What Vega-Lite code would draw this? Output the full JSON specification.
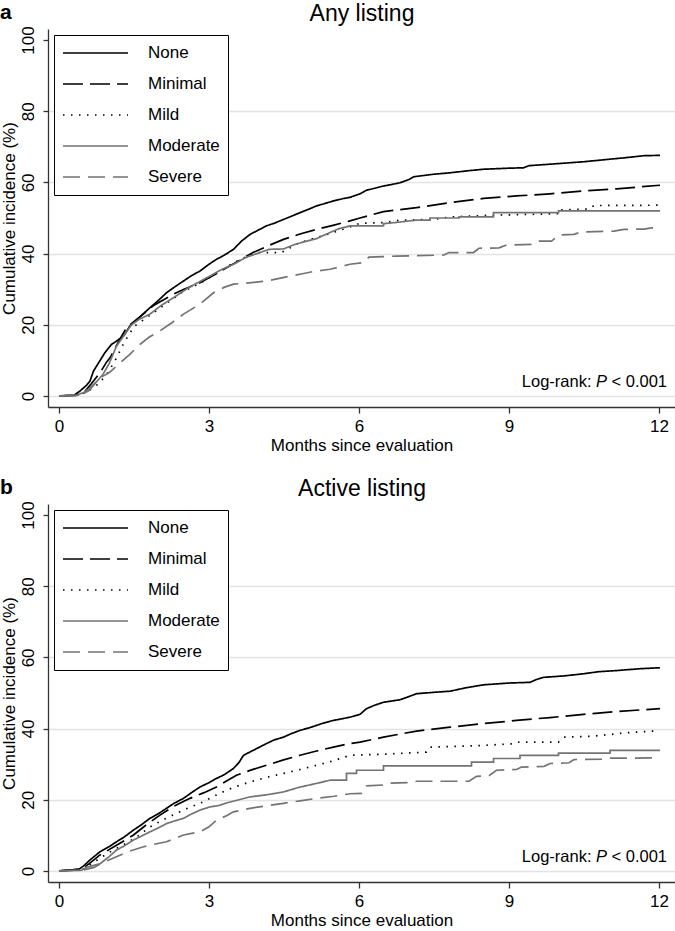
{
  "$schema": "https://vega.github.io/schema/vega-lite/v6.json",
  "padding": {"left": 0, "top": 2, "right": 0, "bottom": 0},
  "background": "white",
  "spacing": 24,
  "config": {
    "font": "Liberation Sans",
    "view": {"stroke": null},
    "axis": {
      "domainColor": "#333333", "domainWidth": 1.3,
      "tickColor": "#333333", "tickWidth": 1.3,
      "labelFontSize": 17, "titleFontSize": 17, "titleFontWeight": "normal",
      "labelColor": "#000000", "titleColor": "#000000",
      "gridColor": "#e3e3e3", "gridWidth": 1.3
    },
    "legend": {
      "orient": "top-left", "offset": 6, "title": null,
      "symbolType": "stroke", "symbolSize": 4225, "symbolStrokeWidth": 1.7,
      "clipHeight": 20,
      "labelFontSize": 17, "labelColor": "#000000", "labelOffset": 19, "labelLimit": 0,
      "rowPadding": 11, "padding": 8,
      "strokeColor": "#000000", "fillColor": "#ffffff"
    },
    "title": {"font": "Liberation Sans", "color": "#000000"}
  },
  "resolve": {"legend": {"color": "independent", "strokeDash": "independent"}},
  "datasets": {
    "note": [{"label": "Log-rank"}],
    "any": [
      {"group":"None","month":0,"pct":0},{"group":"None","month":0.3,"pct":0.2},{"group":"None","month":0.42,"pct":1.4},{"group":"None","month":0.55,"pct":3},{"group":"None","month":0.62,"pct":4.2},{"group":"None","month":0.69,"pct":7},{"group":"None","month":0.8,"pct":9.5},{"group":"None","month":0.92,"pct":12.2},{"group":"None","month":1.05,"pct":14.5},{"group":"None","month":1.15,"pct":15.4},{"group":"None","month":1.3,"pct":17},{"group":"None","month":1.42,"pct":19.7},{"group":"None","month":1.6,"pct":22},{"group":"None","month":1.82,"pct":24.8},{"group":"None","month":2.0,"pct":27},{"group":"None","month":2.15,"pct":29},{"group":"None","month":2.3,"pct":30.5},{"group":"None","month":2.49,"pct":32.3},{"group":"None","month":2.65,"pct":33.8},{"group":"None","month":2.82,"pct":35.1},{"group":"None","month":3.0,"pct":37},{"group":"None","month":3.15,"pct":38.4},{"group":"None","month":3.3,"pct":39.5},{"group":"None","month":3.49,"pct":41.2},{"group":"None","month":3.65,"pct":43.5},{"group":"None","month":3.82,"pct":45.4},{"group":"None","month":4.0,"pct":46.7},{"group":"None","month":4.15,"pct":47.8},{"group":"None","month":4.3,"pct":48.5},{"group":"None","month":4.49,"pct":49.6},{"group":"None","month":4.65,"pct":50.5},{"group":"None","month":4.82,"pct":51.5},{"group":"None","month":5.0,"pct":52.5},{"group":"None","month":5.15,"pct":53.4},{"group":"None","month":5.3,"pct":54},{"group":"None","month":5.49,"pct":54.8},{"group":"None","month":5.7,"pct":55.5},{"group":"None","month":5.82,"pct":55.8},{"group":"None","month":6.02,"pct":56.8},{"group":"None","month":6.15,"pct":57.8},{"group":"None","month":6.3,"pct":58.3},{"group":"None","month":6.49,"pct":59},{"group":"None","month":6.65,"pct":59.4},{"group":"None","month":6.82,"pct":59.9},{"group":"None","month":7.0,"pct":60.8},{"group":"None","month":7.1,"pct":61.6},{"group":"None","month":7.5,"pct":62.3},{"group":"None","month":7.82,"pct":62.7},{"group":"None","month":8.2,"pct":63.3},{"group":"None","month":8.49,"pct":63.7},{"group":"None","month":9.0,"pct":64},{"group":"None","month":9.29,"pct":64.1},{"group":"None","month":9.4,"pct":64.7},{"group":"None","month":10.0,"pct":65.3},{"group":"None","month":10.49,"pct":65.8},{"group":"None","month":11.0,"pct":66.5},{"group":"None","month":11.3,"pct":66.9},{"group":"None","month":11.7,"pct":67.5},{"group":"None","month":12.02,"pct":67.6},

      {"group":"Minimal","month":0,"pct":0},{"group":"Minimal","month":0.35,"pct":0.2},{"group":"Minimal","month":0.5,"pct":1},{"group":"Minimal","month":0.65,"pct":3.5},{"group":"Minimal","month":0.82,"pct":6.5},{"group":"Minimal","month":0.95,"pct":9.5},{"group":"Minimal","month":1.02,"pct":10.7},{"group":"Minimal","month":1.2,"pct":15.5},{"group":"Minimal","month":1.35,"pct":19.2},{"group":"Minimal","month":1.6,"pct":22},{"group":"Minimal","month":1.9,"pct":25.5},{"group":"Minimal","month":2.29,"pct":28.6},{"group":"Minimal","month":2.5,"pct":30},{"group":"Minimal","month":2.82,"pct":31.8},{"group":"Minimal","month":3.1,"pct":34},{"group":"Minimal","month":3.35,"pct":36},{"group":"Minimal","month":3.6,"pct":38},{"group":"Minimal","month":3.88,"pct":40.3},{"group":"Minimal","month":4.2,"pct":42.3},{"group":"Minimal","month":4.49,"pct":44},{"group":"Minimal","month":4.82,"pct":45.5},{"group":"Minimal","month":5.15,"pct":46.8},{"group":"Minimal","month":5.5,"pct":48},{"group":"Minimal","month":5.82,"pct":49.2},{"group":"Minimal","month":6.02,"pct":50},{"group":"Minimal","month":6.49,"pct":51.8},{"group":"Minimal","month":7.15,"pct":52.9},{"group":"Minimal","month":7.82,"pct":54.3},{"group":"Minimal","month":8.49,"pct":55.5},{"group":"Minimal","month":9.15,"pct":56.2},{"group":"Minimal","month":9.82,"pct":56.8},{"group":"Minimal","month":10.49,"pct":57.6},{"group":"Minimal","month":11.15,"pct":58.2},{"group":"Minimal","month":12.02,"pct":59.2},

      {"group":"Mild","month":0,"pct":0},{"group":"Mild","month":0.4,"pct":0.2},{"group":"Mild","month":0.6,"pct":1.5},{"group":"Mild","month":0.8,"pct":3.5},{"group":"Mild","month":1.0,"pct":7},{"group":"Mild","month":1.15,"pct":10.7},{"group":"Mild","month":1.3,"pct":15},{"group":"Mild","month":1.5,"pct":19.5},{"group":"Mild","month":1.8,"pct":22.5},{"group":"Mild","month":2.1,"pct":25.5},{"group":"Mild","month":2.5,"pct":29.5},{"group":"Mild","month":2.8,"pct":31.5},{"group":"Mild","month":3.1,"pct":34},{"group":"Mild","month":3.5,"pct":37.5},{"group":"Mild","month":3.8,"pct":39.5},{"group":"Mild","month":4.0,"pct":40.3},{"group":"Mild","month":4.45,"pct":40.3},{"group":"Mild","month":4.8,"pct":43},{"group":"Mild","month":5.15,"pct":44.5},{"group":"Mild","month":5.5,"pct":46},{"group":"Mild","month":5.82,"pct":47.5},{"group":"Mild","month":6.02,"pct":48.5},{"group":"Mild","month":6.49,"pct":48.7},{"group":"Mild","month":6.82,"pct":49.4},{"group":"Mild","month":7.5,"pct":49.6},{"group":"Mild","month":7.82,"pct":50.3},{"group":"Mild","month":8.69,"pct":50.8},{"group":"Mild","month":9.99,"pct":51.2},{"group":"Mild","month":10.0,"pct":52.3},{"group":"Mild","month":10.6,"pct":52.5},{"group":"Mild","month":10.7,"pct":53.5},{"group":"Mild","month":12.0,"pct":53.6},

      {"group":"Moderate","month":0,"pct":0},{"group":"Moderate","month":0.35,"pct":0.2},{"group":"Moderate","month":0.5,"pct":1},{"group":"Moderate","month":0.62,"pct":2.3},{"group":"Moderate","month":0.75,"pct":4},{"group":"Moderate","month":0.88,"pct":6.1},{"group":"Moderate","month":1.0,"pct":9},{"group":"Moderate","month":1.15,"pct":14},{"group":"Moderate","month":1.3,"pct":17},{"group":"Moderate","month":1.45,"pct":20},{"group":"Moderate","month":1.6,"pct":21.5},{"group":"Moderate","month":1.82,"pct":23},{"group":"Moderate","month":2.05,"pct":25.5},{"group":"Moderate","month":2.29,"pct":27.6},{"group":"Moderate","month":2.6,"pct":30.5},{"group":"Moderate","month":3.02,"pct":33.7},{"group":"Moderate","month":3.25,"pct":35.5},{"group":"Moderate","month":3.49,"pct":37},{"group":"Moderate","month":3.75,"pct":39},{"group":"Moderate","month":4.02,"pct":40.3},{"group":"Moderate","month":4.2,"pct":41.2},{"group":"Moderate","month":4.49,"pct":41.3},{"group":"Moderate","month":4.7,"pct":42.5},{"group":"Moderate","month":4.95,"pct":43.5},{"group":"Moderate","month":5.15,"pct":44.2},{"group":"Moderate","month":5.4,"pct":45.8},{"group":"Moderate","month":5.6,"pct":47},{"group":"Moderate","month":5.82,"pct":47.8},{"group":"Moderate","month":6.49,"pct":47.8},{"group":"Moderate","month":6.49,"pct":48.4},{"group":"Moderate","month":6.7,"pct":48.7},{"group":"Moderate","month":7.15,"pct":49.4},{"group":"Moderate","month":7.42,"pct":49.4},{"group":"Moderate","month":7.42,"pct":50},{"group":"Moderate","month":8.0,"pct":50},{"group":"Moderate","month":8.0,"pct":50.3},{"group":"Moderate","month":8.69,"pct":50.3},{"group":"Moderate","month":8.69,"pct":51.5},{"group":"Moderate","month":9.99,"pct":51.5},{"group":"Moderate","month":9.99,"pct":52},{"group":"Moderate","month":12.02,"pct":52},

      {"group":"Severe","month":0,"pct":0},{"group":"Severe","month":0.4,"pct":0.1},{"group":"Severe","month":0.6,"pct":1.5},{"group":"Severe","month":0.82,"pct":5.1},{"group":"Severe","month":1.0,"pct":6.5},{"group":"Severe","month":1.15,"pct":8.4},{"group":"Severe","month":1.4,"pct":11.5},{"group":"Severe","month":1.62,"pct":14.5},{"group":"Severe","month":1.8,"pct":16.5},{"group":"Severe","month":2.02,"pct":18.3},{"group":"Severe","month":2.25,"pct":20.5},{"group":"Severe","month":2.49,"pct":23},{"group":"Severe","month":2.82,"pct":25.8},{"group":"Severe","month":3.09,"pct":29},{"group":"Severe","month":3.3,"pct":30.5},{"group":"Severe","month":3.49,"pct":31.4},{"group":"Severe","month":3.8,"pct":31.8},{"group":"Severe","month":4.15,"pct":32.3},{"group":"Severe","month":4.5,"pct":33.3},{"group":"Severe","month":4.82,"pct":34.2},{"group":"Severe","month":5.1,"pct":35},{"group":"Severe","month":5.42,"pct":35.6},{"group":"Severe","month":5.82,"pct":37},{"group":"Severe","month":6.09,"pct":37.5},{"group":"Severe","month":6.2,"pct":39},{"group":"Severe","month":6.75,"pct":39.3},{"group":"Severe","month":7.7,"pct":39.6},{"group":"Severe","month":7.8,"pct":40.3},{"group":"Severe","month":8.29,"pct":40.3},{"group":"Severe","month":8.4,"pct":41.5},{"group":"Severe","month":8.8,"pct":41.6},{"group":"Severe","month":8.95,"pct":42.4},{"group":"Severe","month":9.45,"pct":42.6},{"group":"Severe","month":9.6,"pct":43.5},{"group":"Severe","month":9.85,"pct":43.5},{"group":"Severe","month":10.0,"pct":45.2},{"group":"Severe","month":10.3,"pct":45.4},{"group":"Severe","month":10.45,"pct":46.1},{"group":"Severe","month":11.1,"pct":46.3},{"group":"Severe","month":11.3,"pct":46.8},{"group":"Severe","month":11.7,"pct":46.9},{"group":"Severe","month":11.85,"pct":47.2},{"group":"Severe","month":12.02,"pct":47.3}
    ],
    "active": [
      {"group":"None","month":0,"pct":0},{"group":"None","month":0.4,"pct":0.5},{"group":"None","month":0.5,"pct":1.5},{"group":"None","month":0.62,"pct":3.1},{"group":"None","month":0.82,"pct":5.4},{"group":"None","month":1.0,"pct":6.8},{"group":"None","month":1.15,"pct":8.2},{"group":"None","month":1.3,"pct":9.5},{"group":"None","month":1.49,"pct":11.5},{"group":"None","month":1.65,"pct":13},{"group":"None","month":1.82,"pct":14.8},{"group":"None","month":2.0,"pct":16.2},{"group":"None","month":2.15,"pct":17.6},{"group":"None","month":2.3,"pct":19},{"group":"None","month":2.49,"pct":20.4},{"group":"None","month":2.65,"pct":22},{"group":"None","month":2.82,"pct":23.6},{"group":"None","month":3.0,"pct":24.8},{"group":"None","month":3.15,"pct":26},{"group":"None","month":3.3,"pct":27},{"group":"None","month":3.49,"pct":28.8},{"group":"None","month":3.6,"pct":30.5},{"group":"None","month":3.69,"pct":32.5},{"group":"None","month":3.9,"pct":34},{"group":"None","month":4.15,"pct":35.8},{"group":"None","month":4.3,"pct":36.8},{"group":"None","month":4.49,"pct":37.6},{"group":"None","month":4.65,"pct":38.6},{"group":"None","month":4.82,"pct":39.5},{"group":"None","month":5.0,"pct":40.2},{"group":"None","month":5.15,"pct":40.9},{"group":"None","month":5.3,"pct":41.6},{"group":"None","month":5.49,"pct":42.3},{"group":"None","month":5.82,"pct":43.2},{"group":"None","month":6.02,"pct":44},{"group":"None","month":6.15,"pct":45.6},{"group":"None","month":6.3,"pct":46.5},{"group":"None","month":6.49,"pct":47.4},{"group":"None","month":6.82,"pct":48.1},{"group":"None","month":7.0,"pct":49},{"group":"None","month":7.15,"pct":49.8},{"group":"None","month":7.5,"pct":50.2},{"group":"None","month":7.82,"pct":50.5},{"group":"None","month":8.15,"pct":51.5},{"group":"None","month":8.49,"pct":52.3},{"group":"None","month":9.0,"pct":52.8},{"group":"None","month":9.42,"pct":53},{"group":"None","month":9.55,"pct":53.8},{"group":"None","month":9.69,"pct":54.4},{"group":"None","month":10.1,"pct":54.8},{"group":"None","month":10.49,"pct":55.4},{"group":"None","month":10.8,"pct":56},{"group":"None","month":11.15,"pct":56.3},{"group":"None","month":11.6,"pct":56.8},{"group":"None","month":12.02,"pct":57.1},

      {"group":"Minimal","month":0,"pct":0},{"group":"Minimal","month":0.45,"pct":0.5},{"group":"Minimal","month":0.6,"pct":2},{"group":"Minimal","month":0.82,"pct":4.5},{"group":"Minimal","month":1.15,"pct":7.2},{"group":"Minimal","month":1.49,"pct":10.1},{"group":"Minimal","month":1.75,"pct":13},{"group":"Minimal","month":2.02,"pct":15.7},{"group":"Minimal","month":2.3,"pct":18.2},{"group":"Minimal","month":2.62,"pct":20.4},{"group":"Minimal","month":2.9,"pct":22},{"group":"Minimal","month":3.15,"pct":23.6},{"group":"Minimal","month":3.35,"pct":25.3},{"group":"Minimal","month":3.55,"pct":26.9},{"group":"Minimal","month":3.85,"pct":28.4},{"group":"Minimal","month":4.15,"pct":29.7},{"group":"Minimal","month":4.49,"pct":31.2},{"group":"Minimal","month":4.82,"pct":32.5},{"group":"Minimal","month":5.15,"pct":33.7},{"group":"Minimal","month":5.49,"pct":34.8},{"group":"Minimal","month":5.82,"pct":35.8},{"group":"Minimal","month":6.02,"pct":36.2},{"group":"Minimal","month":6.49,"pct":37.6},{"group":"Minimal","month":7.15,"pct":39.3},{"group":"Minimal","month":7.82,"pct":40.4},{"group":"Minimal","month":8.49,"pct":41.4},{"group":"Minimal","month":9.15,"pct":42.3},{"group":"Minimal","month":9.82,"pct":43.1},{"group":"Minimal","month":10.49,"pct":44},{"group":"Minimal","month":11.15,"pct":44.8},{"group":"Minimal","month":12.02,"pct":45.6},

      {"group":"Mild","month":0,"pct":0},{"group":"Mild","month":0.45,"pct":0.3},{"group":"Mild","month":0.6,"pct":1.5},{"group":"Mild","month":0.82,"pct":3.6},{"group":"Mild","month":1.1,"pct":6},{"group":"Mild","month":1.35,"pct":7.8},{"group":"Mild","month":1.6,"pct":10},{"group":"Mild","month":1.82,"pct":12.4},{"group":"Mild","month":2.1,"pct":14.5},{"group":"Mild","month":2.35,"pct":16.2},{"group":"Mild","month":2.6,"pct":17.8},{"group":"Mild","month":2.82,"pct":19},{"group":"Mild","month":3.1,"pct":21},{"group":"Mild","month":3.35,"pct":22.7},{"group":"Mild","month":3.6,"pct":24},{"group":"Mild","month":3.82,"pct":25},{"group":"Mild","month":4.15,"pct":26.3},{"group":"Mild","month":4.49,"pct":27.4},{"group":"Mild","month":4.82,"pct":28.5},{"group":"Mild","month":5.15,"pct":29.7},{"group":"Mild","month":5.5,"pct":31},{"group":"Mild","month":5.82,"pct":32.5},{"group":"Mild","month":6.49,"pct":32.8},{"group":"Mild","month":7.35,"pct":33.4},{"group":"Mild","month":7.42,"pct":34.8},{"group":"Mild","month":8.4,"pct":35.2},{"group":"Mild","month":9.15,"pct":35.8},{"group":"Mild","month":9.2,"pct":36.2},{"group":"Mild","month":9.99,"pct":36.2},{"group":"Mild","month":10.1,"pct":37.6},{"group":"Mild","month":10.6,"pct":37.8},{"group":"Mild","month":11.15,"pct":38.5},{"group":"Mild","month":11.3,"pct":38.8},{"group":"Mild","month":11.89,"pct":39.3},

      {"group":"Moderate","month":0,"pct":0},{"group":"Moderate","month":0.45,"pct":0.2},{"group":"Moderate","month":0.55,"pct":1},{"group":"Moderate","month":0.82,"pct":2},{"group":"Moderate","month":1.0,"pct":4},{"group":"Moderate","month":1.15,"pct":5.9},{"group":"Moderate","month":1.3,"pct":7},{"group":"Moderate","month":1.49,"pct":8.7},{"group":"Moderate","month":1.65,"pct":9.8},{"group":"Moderate","month":1.82,"pct":11},{"group":"Moderate","month":2.0,"pct":12.2},{"group":"Moderate","month":2.15,"pct":13.3},{"group":"Moderate","month":2.3,"pct":14},{"group":"Moderate","month":2.49,"pct":14.8},{"group":"Moderate","month":2.65,"pct":16},{"group":"Moderate","month":2.82,"pct":17.1},{"group":"Moderate","month":3.02,"pct":18},{"group":"Moderate","month":3.2,"pct":18.4},{"group":"Moderate","month":3.35,"pct":19.1},{"group":"Moderate","month":3.6,"pct":20},{"group":"Moderate","month":3.82,"pct":20.8},{"group":"Moderate","month":4.2,"pct":21.5},{"group":"Moderate","month":4.49,"pct":22.2},{"group":"Moderate","month":4.8,"pct":23.5},{"group":"Moderate","month":5.15,"pct":24.6},{"group":"Moderate","month":5.42,"pct":25.5},{"group":"Moderate","month":5.75,"pct":25.5},{"group":"Moderate","month":5.75,"pct":27.4},{"group":"Moderate","month":5.95,"pct":27.4},{"group":"Moderate","month":5.95,"pct":28.3},{"group":"Moderate","month":6.49,"pct":28.3},{"group":"Moderate","month":6.49,"pct":29.5},{"group":"Moderate","month":8.25,"pct":29.5},{"group":"Moderate","month":8.25,"pct":30.6},{"group":"Moderate","month":8.69,"pct":30.6},{"group":"Moderate","month":8.69,"pct":31.6},{"group":"Moderate","month":9.22,"pct":31.6},{"group":"Moderate","month":9.22,"pct":32.5},{"group":"Moderate","month":9.99,"pct":32.5},{"group":"Moderate","month":9.99,"pct":33.1},{"group":"Moderate","month":11.02,"pct":33.1},{"group":"Moderate","month":11.02,"pct":33.9},{"group":"Moderate","month":12.02,"pct":33.9},

      {"group":"Severe","month":0,"pct":0},{"group":"Severe","month":0.5,"pct":0.3},{"group":"Severe","month":0.7,"pct":1},{"group":"Severe","month":0.9,"pct":2.5},{"group":"Severe","month":1.15,"pct":4},{"group":"Severe","month":1.4,"pct":5.5},{"group":"Severe","month":1.69,"pct":6.8},{"group":"Severe","month":1.9,"pct":7.5},{"group":"Severe","month":2.15,"pct":8.2},{"group":"Severe","month":2.49,"pct":10.1},{"group":"Severe","month":2.82,"pct":11},{"group":"Severe","month":3.0,"pct":12.4},{"group":"Severe","month":3.15,"pct":14.3},{"group":"Severe","month":3.35,"pct":15.5},{"group":"Severe","month":3.49,"pct":16.6},{"group":"Severe","month":3.82,"pct":17.6},{"group":"Severe","month":4.15,"pct":18.3},{"group":"Severe","month":4.49,"pct":19},{"group":"Severe","month":4.82,"pct":19.7},{"group":"Severe","month":5.15,"pct":20.4},{"group":"Severe","month":5.5,"pct":21},{"group":"Severe","month":5.82,"pct":21.7},{"group":"Severe","month":6.05,"pct":21.8},{"group":"Severe","month":6.15,"pct":23.9},{"group":"Severe","month":6.55,"pct":24.2},{"group":"Severe","month":6.62,"pct":24.7},{"group":"Severe","month":7.0,"pct":24.8},{"group":"Severe","month":7.15,"pct":25.2},{"group":"Severe","month":8.2,"pct":25.2},{"group":"Severe","month":8.35,"pct":26.6},{"group":"Severe","month":8.6,"pct":26.8},{"group":"Severe","month":8.75,"pct":28.3},{"group":"Severe","month":9.15,"pct":28.5},{"group":"Severe","month":9.25,"pct":29.2},{"group":"Severe","month":9.7,"pct":29.4},{"group":"Severe","month":9.82,"pct":30.2},{"group":"Severe","month":10.2,"pct":30.4},{"group":"Severe","month":10.3,"pct":31.3},{"group":"Severe","month":10.9,"pct":31.4},{"group":"Severe","month":11.0,"pct":31.7},{"group":"Severe","month":11.5,"pct":31.7},{"group":"Severe","month":11.89,"pct":31.8}
    ]
  },
  "vconcat": [
    {
      "title": {"text": "a", "anchor": "start", "frame": "bounds", "fontSize": 21, "fontWeight": "bold", "offset": -21},
      "width": 627, "height": 378,
      "resolve": {"axis": {"x": "independent"}},
      "layer": [
        {
          "data": {"name": "any"},
          "mark": {"type": "line", "strokeWidth": 1.7, "strokeCap": "butt"},
          "encoding": {
            "x": {"field": "month", "type": "quantitative", "scale": {"domain": [-0.22, 12.32], "nice": false, "zero": false},
                  "axis": {"values": [0, 3, 6, 9, 12], "title": "Months since evaluation", "grid": false, "tickSize": 6, "labelPadding": 5, "titlePadding": 3}},
            "y": {"field": "pct", "type": "quantitative", "scale": {"domain": [-3.1, 103.1], "nice": false, "zero": false},
                  "axis": {"values": [0, 20, 40, 60, 80, 100], "title": "Cumulative incidence (%)", "tickSize": 5, "labelAngle": 270, "labelAlign": "center", "labelBaseline": "bottom", "labelPadding": 6, "titlePadding": 1,
                           "gridOpacity": {"condition": {"test": "datum.value === 100", "value": 0}, "value": 1}}},
            "color": {"field": "group", "type": "nominal", "title": null,
                      "scale": {"domain": ["None", "Minimal", "Mild", "Moderate", "Severe"], "range": ["#000000", "#000000", "#000000", "#737373", "#737373"]}},
            "strokeDash": {"field": "group", "type": "nominal", "title": null,
                           "scale": {"domain": ["None", "Minimal", "Mild", "Moderate", "Severe"], "range": [[1, 0], [20, 7], [1.5, 6.5], [1, 0], [17, 8]]}},
            "order": {"value": null}
          }
        },
        {
          "data": {"name": "note"},
          "mark": {"type": "text", "align": "right", "baseline": "alphabetic", "fontSize": 16.5, "color": "#000000"},
          "encoding": {
            "x": {"datum": 12.16, "type": "quantitative", "axis": {"orient": "top", "title": "Any listing", "labels": false, "ticks": false, "domain": false, "grid": false, "titleFontSize": 23, "titlePadding": 4}},
            "y": {"datum": 2.5, "type": "quantitative"},
            "text": {"value": "< 0.001"}
          }
        },
        {
          "data": {"name": "note"},
          "mark": {"type": "text", "align": "right", "baseline": "alphabetic", "fontSize": 16.5, "fontStyle": "italic", "dx": -60, "color": "#000000"},
          "encoding": {
            "x": {"datum": 12.16, "type": "quantitative", "axis": null},
            "y": {"datum": 2.5, "type": "quantitative"},
            "text": {"value": "P"}
          }
        },
        {
          "data": {"name": "note"},
          "mark": {"type": "text", "align": "right", "baseline": "alphabetic", "fontSize": 16.5, "dx": -75.5, "color": "#000000"},
          "encoding": {
            "x": {"datum": 12.16, "type": "quantitative", "axis": null},
            "y": {"datum": 2.5, "type": "quantitative"},
            "text": {"value": "Log-rank:"}
          }
        }
      ]
    },
    {
      "title": {"text": "b", "anchor": "start", "frame": "bounds", "fontSize": 21, "fontWeight": "bold", "offset": -21},
      "width": 627, "height": 378,
      "resolve": {"axis": {"x": "independent"}},
      "layer": [
        {
          "data": {"name": "active"},
          "mark": {"type": "line", "strokeWidth": 1.7, "strokeCap": "butt"},
          "encoding": {
            "x": {"field": "month", "type": "quantitative", "scale": {"domain": [-0.22, 12.32], "nice": false, "zero": false},
                  "axis": {"values": [0, 3, 6, 9, 12], "title": "Months since evaluation", "grid": false, "tickSize": 6, "labelPadding": 5, "titlePadding": 3}},
            "y": {"field": "pct", "type": "quantitative", "scale": {"domain": [-3.1, 103.1], "nice": false, "zero": false},
                  "axis": {"values": [0, 20, 40, 60, 80, 100], "title": "Cumulative incidence (%)", "tickSize": 5, "labelAngle": 270, "labelAlign": "center", "labelBaseline": "bottom", "labelPadding": 6, "titlePadding": 1,
                           "gridOpacity": {"condition": {"test": "datum.value === 100", "value": 0}, "value": 1}}},
            "color": {"field": "group", "type": "nominal", "title": null,
                      "scale": {"domain": ["None", "Minimal", "Mild", "Moderate", "Severe"], "range": ["#000000", "#000000", "#000000", "#737373", "#737373"]}},
            "strokeDash": {"field": "group", "type": "nominal", "title": null,
                           "scale": {"domain": ["None", "Minimal", "Mild", "Moderate", "Severe"], "range": [[1, 0], [20, 7], [1.5, 6.5], [1, 0], [17, 8]]}},
            "order": {"value": null}
          }
        },
        {
          "data": {"name": "note"},
          "mark": {"type": "text", "align": "right", "baseline": "alphabetic", "fontSize": 16.5, "color": "#000000"},
          "encoding": {
            "x": {"datum": 12.16, "type": "quantitative", "axis": {"orient": "top", "title": "Active listing", "labels": false, "ticks": false, "domain": false, "grid": false, "titleFontSize": 23, "titlePadding": 4}},
            "y": {"datum": 2.5, "type": "quantitative"},
            "text": {"value": "< 0.001"}
          }
        },
        {
          "data": {"name": "note"},
          "mark": {"type": "text", "align": "right", "baseline": "alphabetic", "fontSize": 16.5, "fontStyle": "italic", "dx": -60, "color": "#000000"},
          "encoding": {
            "x": {"datum": 12.16, "type": "quantitative", "axis": null},
            "y": {"datum": 2.5, "type": "quantitative"},
            "text": {"value": "P"}
          }
        },
        {
          "data": {"name": "note"},
          "mark": {"type": "text", "align": "right", "baseline": "alphabetic", "fontSize": 16.5, "dx": -75.5, "color": "#000000"},
          "encoding": {
            "x": {"datum": 12.16, "type": "quantitative", "axis": null},
            "y": {"datum": 2.5, "type": "quantitative"},
            "text": {"value": "Log-rank:"}
          }
        }
      ]
    }
  ]
}
